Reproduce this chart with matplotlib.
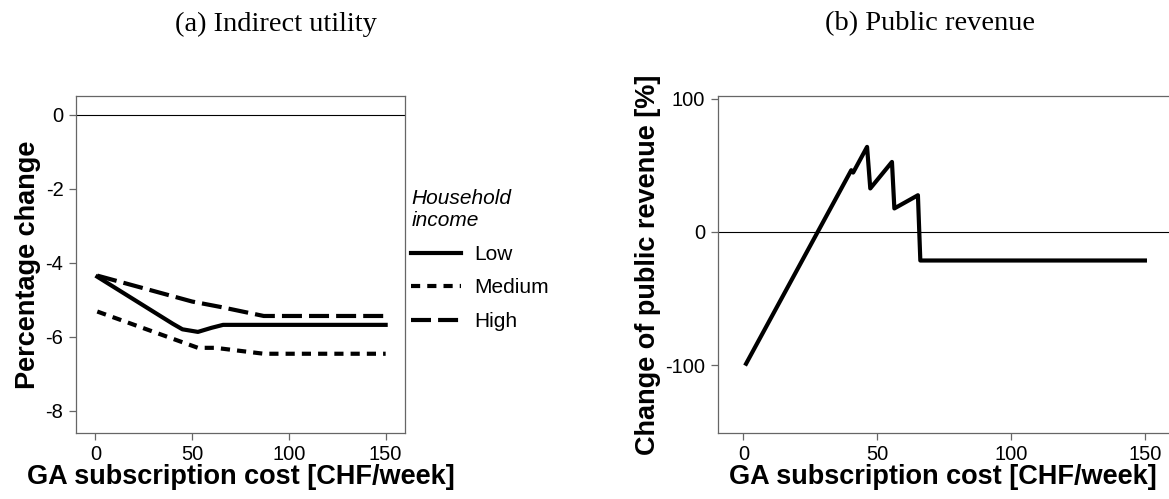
import matplotlib
matplotlib.use("Agg")
import matplotlib.pyplot as plt

plt.rcParams['font.family'] = ['Liberation Sans', 'DejaVu Sans']
plt.rcParams['axes.unicode_minus'] = False

# ---- Data ----
cost_low = [1, 40, 45, 53, 60, 66, 150]
util_low = [-4.38, -5.65, -5.80, -5.87, -5.76, -5.68, -5.68]
cost_med = [1, 53, 62, 87, 150]
util_med = [-5.32, -6.30, -6.30, -6.46, -6.46]
cost_high = [1, 50, 65, 87, 150]
util_high = [-4.35, -5.05, -5.20, -5.44, -5.44]

cost_rev = [1, 40.3, 41, 46.2, 47.4, 55.5, 56.4, 65.2, 66.1, 150]
revenue = [-99, 46.3, 44.5, 63.8, 32.6, 52.5, 17.6, 27.5, -21.5, -21.5]

xticks = [0, 50, 100, 150]
yticks_a = [0, -2, -4, -6, -8]
yticks_b = [100, 0, -100]
legend_labels = ['Low', 'Medium', 'High']

W, H = 1169, 499
fig = plt.figure(figsize=(W / 100, H / 100), dpi=100)

spine_col = '#666666'
LBL = 19.5

def style(ax):
    for s in ax.spines.values():
        s.set_color(spine_col)
        s.set_linewidth(0.9)
    ax.tick_params(direction='out', length=5, width=0.9, color=spine_col,
                   labelsize=14.5, labelcolor='black', pad=4)

# Left panel
axa = fig.add_axes([76 / W, 1 - 433 / H, 329 / W, 337 / H])
style(axa)
axa.axhline(0, color='black', lw=0.8)
lw = 3.0
axa.plot(cost_low, util_low, color='black', lw=lw, ls='-', label=legend_labels[0])
axa.plot(cost_med, util_med, color='black', lw=lw, ls=(0, (2.2, 1.7)), label=legend_labels[1])
axa.plot(cost_high, util_high, color='black', lw=lw, ls=(0, (4.8, 1.7)), label=legend_labels[2])
axa.set_xlim(-10, 160)
axa.set_ylim(-8.6, 0.5)
axa.set_xticks(xticks)
axa.set_yticks(yticks_a)
axa.set_xlabel('GA subscription cost [CHF/week]', fontsize=LBL, fontweight='bold', labelpad=0)
axa.set_ylabel('Percentage change', fontsize=LBL, fontweight='bold', labelpad=3)

leg = axa.legend(loc='upper left', bbox_to_anchor=(405 / W, 1 - 183 / H),
                 bbox_transform=fig.transFigure, frameon=False,
                 title='Household\nincome', fontsize=15, handlelength=2.4,
                 handletextpad=0.6, labelspacing=0.7, alignment='left',
                 borderaxespad=0, borderpad=0.3)
leg.get_title().set_fontstyle('italic')
leg.get_title().set_fontsize(15)

# Right panel
axb = fig.add_axes([717.7 / W, 1 - 433 / H, (W - 717.7) / W, 337 / H])
style(axb)
axb.spines['right'].set_visible(False)
axb.axhline(0, color='black', lw=0.8)
axb.plot(cost_rev, revenue, color='black', lw=lw)
axb.set_xlim(-9.6, 159)
axb.set_ylim(-151, 102)
axb.set_xticks(xticks)
axb.set_yticks(yticks_b)
axb.set_xlabel('GA subscription cost [CHF/week]', fontsize=LBL, fontweight='bold', labelpad=0)
axb.set_ylabel('Change of public revenue [%]', fontsize=LBL, fontweight='bold', labelpad=3)

fig.text(275.5 / W, 1 - 24 / H, '(a) Indirect utility', ha='center', va='center',
         fontsize=20.5, family='Liberation Serif')
fig.text(930 / W, 1 - 24 / H, '(b) Public revenue', ha='center', va='center',
         fontsize=20.5, family='Liberation Serif')

fig.savefig('out.png', dpi=100)
